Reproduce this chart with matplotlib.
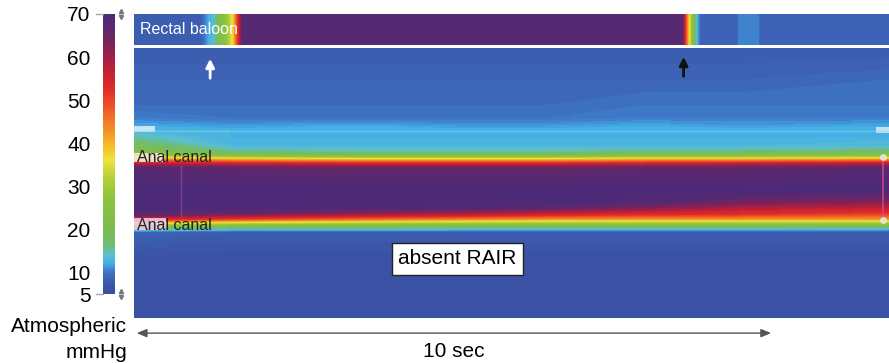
import numpy as np
import matplotlib.pyplot as plt
import matplotlib.transforms as mtransforms
from matplotlib.colors import LinearSegmentedColormap, Normalize
from matplotlib.cm import ScalarMappable
from matplotlib.patches import Rectangle

plt.rcParams['font.family'] = ['Liberation Sans', 'DejaVu Sans']

# colour scale (mmHg -> colour)
scale_mmhg = [5, 7, 9, 10.5, 12, 14, 16, 20, 27, 32, 36, 39, 43, 48, 53, 58, 63, 67, 70]
scale_colors = ['#3a4d9e', '#3b55a8', '#3d66b8', '#3f7fcc', '#44aee6', '#5cc0d0', '#6cbc7a',
                '#7cbc50', '#8cc43c', '#b4d03a', '#ece43a', '#f5c02a', '#f29028', '#ee5a28',
                '#e02828', '#b81e3a', '#7e2258', '#5a2870', '#4c2a78']
cbar_ticks = [70, 60, 50, 40, 30, 20, 10, 5]

# rectal balloon channel
balloon_t = [0, 1.05, 1.15, 1.25, 1.35, 1.45, 1.55, 1.62, 1.70, 8.57, 8.62, 8.68,
             8.74, 8.80, 8.86, 9.43, 9.45, 9.76, 9.78, 11.8]
balloon_p = [8, 8.5, 12, 14, 22, 28, 38, 52, 68, 68, 52, 37, 22, 13, 9, 9, 11, 11, 9, 9]

# anal canal channels: time (s) x sensor position, pressure in mmHg
canal_t = [0, 1.5, 3.5, 5.0, 6.5, 8.0, 9.5, 11.8]
canal_pos = [0.0, 3.2, 5.7, 7.0, 7.8, 8.3, 9.0, 9.8, 10.4, 10.8, 11.2, 11.6, 12.0,
             14.2, 15.4, 16.0, 16.6, 17.1, 17.6, 18.0, 18.4, 21.2, 27.0]
canal_p = [
    [8, 8, 8, 8, 8, 8, 8, 8],
    [9, 9, 9, 9, 9, 9, 9, 9.5],
    [9.5, 9.5, 9.5, 9.5, 9.5, 10, 10, 10],
    [10.5, 10, 10, 10, 10, 10.5, 10.5, 10.5],
    [12, 11.5, 12, 11.5, 11.5, 12, 11.5, 12],
    [13, 12.5, 12.5, 12.5, 12.5, 12.5, 12.5, 12.5],
    [15, 12.5, 12.5, 12.5, 12.5, 12.5, 12.5, 12.5],
    [19, 13, 13, 13, 13, 13, 13, 13.5],
    [22, 16, 15, 15, 15, 16, 16, 17],
    [30, 25, 23, 23, 23, 25, 25, 26],
    [45, 42, 40, 40, 40, 42, 42, 44],
    [58, 56, 55, 55, 55, 56, 57, 58],
    [67, 66, 65, 65, 65, 66, 66, 67],
    [70, 70, 70, 70, 70, 70, 70, 70],
    [70, 70, 70, 70, 70, 68, 64, 62],
    [70, 70, 69, 68, 66, 62, 58, 56],
    [67, 64, 60, 58, 55, 53, 52, 50],
    [55, 50, 46, 44, 42, 42, 42, 42],
    [32, 28, 26, 25, 25, 25, 25, 25],
    [18, 16, 16, 15, 15, 15, 15, 14],
    [9, 8, 8, 8, 8, 8, 8, 8],
    [6.5, 6.5, 6.5, 6.5, 6.5, 6.5, 6.5, 6.5],
    [6.5, 6.5, 6.5, 6.5, 6.5, 6.5, 6.5, 6.5],
]

vmin, vmax = 5, 70
stops = [(v - vmin) / (vmax - vmin) for v in scale_mmhg]
cmap = LinearSegmentedColormap.from_list('hrm', list(zip(stops, scale_colors)))
cmap.set_over(scale_colors[-1])
cmap.set_under(scale_colors[0])
levels = np.linspace(vmin, vmax, 131)

W, H = 889, 363
fig = plt.figure(figsize=(W / 100, H / 100), dpi=100)

def box(x0, y0, x1, y1):
    # pixel box (top-left origin) -> figure fraction
    return [x0 / W, 1 - y1 / H, (x1 - x0) / W, (y1 - y0) / H]

t_end = canal_t[-1]

# balloon strip
axb = fig.add_axes(box(134, 14, 889, 45))
axb.contourf(balloon_t, [0, 1], [balloon_p, balloon_p], levels=levels, cmap=cmap, extend='both')
axb.set_xlim(0, t_end)
axb.set_axis_off()
axb.text(0.1, 0.5, 'Rectal baloon', color='white', fontsize=11.5, va='center', ha='left')

# main pressure map
ax = fig.add_axes(box(134, 48, 889, 318))
ax.contourf(canal_t, canal_pos, canal_p, levels=levels, cmap=cmap, extend='both')
ax.set_xlim(0, t_end)
ax.set_ylim(27, 0)
ax.set_axis_off()

ax.axhline(8.3, color='#8ad6f2', lw=1, alpha=0.5)
ax.add_patch(Rectangle((0, 7.8), 0.33, 0.6, color='#e8f2f8', alpha=0.8, lw=0))
ax.add_patch(Rectangle((11.6, 7.9), 0.2, 0.6, color='#e4eef4', alpha=0.8, lw=0))
ax.add_patch(Rectangle((0, 10.5), 0.45, 0.9, color='#f2e6d2', alpha=0.9, lw=0))
ax.add_patch(Rectangle((0, 17.0), 0.5, 1.2, color='#ecc8e4', alpha=0.9, lw=0))
ax.plot([0.74, 0.74], [11.8, 16.8], color='#a048a8', lw=1, alpha=0.7)
ax.plot([11.7, 11.7], [11.2, 16.9], color='#e04898', lw=1.2, alpha=0.8)
ax.plot([11.7, 11.7], [10.9, 17.2], ls='none', marker='o', ms=4, color='#e8e8e8', alpha=0.8)
ax.text(0.05, 11.0, 'Anal canal', fontsize=11.5, color='#222222', va='center')
ax.text(0.05, 17.7, 'Anal canal', fontsize=11.5, color='#222222', va='center')

ax.annotate('', xy=(1.19, 0.8), xytext=(1.19, 3.3),
            arrowprops=dict(arrowstyle='-|>,head_width=0.25,head_length=0.5', color='white', lw=2))
ax.annotate('', xy=(8.59, 0.6), xytext=(8.59, 3.1),
            arrowprops=dict(arrowstyle='-|>,head_width=0.25,head_length=0.5', color='#111111', lw=2))

ax.text(5.05, 21.1, 'absent RAIR', fontsize=15, ha='center', va='center',
        bbox=dict(boxstyle='square,pad=0.3', fc='white', ec='#222222', lw=1))

# time scale arrow
ax.annotate('', xy=(10, -0.056), xytext=(0, -0.056),
            xycoords=('data', 'axes fraction'), textcoords=('data', 'axes fraction'),
            arrowprops=dict(arrowstyle='<|-|>,head_width=0.25,head_length=0.6', color='#555555', lw=1),
            annotation_clip=False)
ax.text(5.0, -0.125, '10 sec', transform=mtransforms.blended_transform_factory(ax.transData, ax.transAxes),
        fontsize=15, ha='center', va='center')

# colour bar
cax = fig.add_axes(box(103, 14, 115, 294))
cb = fig.colorbar(ScalarMappable(norm=Normalize(vmin, vmax), cmap=cmap), cax=cax, ticks=cbar_ticks)
cb.outline.set_visible(False)
cax.yaxis.set_ticks_position('left')
cax.tick_params(length=0, pad=9, labelsize=15)
tr = mtransforms.blended_transform_factory(cax.transAxes, cax.transData)
for v in (70, 5):
    cax.plot([-0.55, 0], [v, v], color='#aaaaaa', lw=1, transform=tr, clip_on=False)
    cax.plot([1.5], [v + 0.8], marker='^', ms=3, color='#777777', transform=tr, clip_on=False)
    cax.plot([1.5], [v - 0.8], marker='v', ms=3, color='#777777', transform=tr, clip_on=False)

fig.text(127 / W, 1 - 327 / H, 'Atmospheric', fontsize=15, ha='right', va='center')
fig.text(127 / W, 1 - 352 / H, 'mmHg', fontsize=15, ha='right', va='center')

fig.savefig('out.png', dpi=100)
